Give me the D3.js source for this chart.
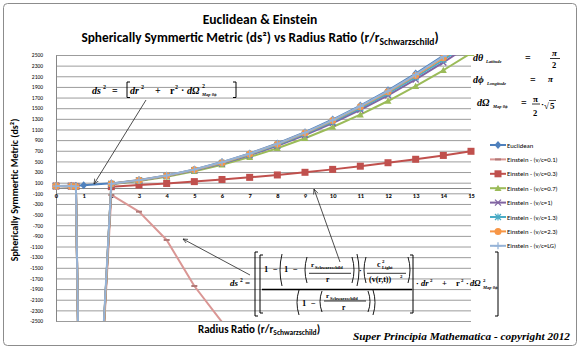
<!DOCTYPE html>
<html>
<head>
<meta charset="utf-8">
<script src="https://cdn.jsdelivr.net/npm/d3@7"></script>
<style>
  body { margin: 0; background: #fff; }
  svg text { font-family: Carlito, Calibri, Lato, sans-serif; }
  svg text.math { font-family: "Liberation Serif", "Times New Roman", serif; font-weight: bold; }
</style>
</head>
<body>
<svg id="chart" width="580" height="349"></svg>
<script>
// values (x = r / r_schwarzschild)
const xValues = [0, 0.55, 0.72, 1, 2, 3, 4, 5, 6, 7, 8, 9, 10, 11, 12, 13, 14, 15];
const euclidean  = [37, 41, 43, 50, 87, 150, 237, 350, 487, 650, 837, 1050, 1287, 1550, 1837, 2150, 2487, 2850];
const einstein01 = [37, 35, 30, -9600, -131, -445, -977, -1842, -2520, null, null, null, null, null, null, null, null, null];
const einstein03 = [37, 35, 30, -9600, 25, 55, 85, 120, 160, 200, 245, 295, 350, 410, 475, 540, 612, 690];
const einstein07 = [37, 35, 30, -9700, 70, 130, 213, 315, 437, 581, 747, 936, 1147, 1380, 1635, 1913, 2213, 2535];
const einstein1  = [37, 35, 30, -9800, 76, 140, 224, 331, 461, 617, 795, 997, 1222, 1471, 1743, 2040, 2360, 2703];
const einstein13 = [37, 35, 30, -9900, 78, 143, 228, 337, 469, 630, 812, 1017, 1247, 1501, 1779, 2082, 2408, 2759];
const einstein23 = [37, 35, 30, -10000, 80, 146, 232, 342, 476, 640, 824, 1033, 1267, 1525, 1808, 2115, 2447, 2804];
const einsteinLG = [37, 35, 30, -9500, 80, 148, 235, 347, 483, 645, 830, 1041, 1277, 1537, 1822, 2133, 2468, 2830];

const seriesNames = ["Euclidean", "Einstein - (v/c=0.1)", "Einstein - (v/c=0.3)", "Einstein - (v/c=0.7)",
                     "Einstein - (v/c=1)", "Einstein - (v/c=1.3)", "Einstein - (v/c=2.3)", "Einstein - (v/c=LG)"];
const seriesValues = [euclidean, einstein01, einstein03, einstein07, einstein1, einstein13, einstein23, einsteinLG];
const seriesColors = ["#4F81BD", "#DA9694", "#C0504D", "#9BBB59", "#8064A2", "#4BACC6", "#F79646", "#95B3D7"];
const seriesMarkers = ["diamond", "dash", "square", "triangle", "cross", "star", "circle", "plus"];

const xTicks = [0, 1, 2, 3, 4, 5, 6, 7, 8, 9, 10, 11, 12, 13, 14, 15];
const yTicks = d3.range(-2500, 2501, 200);

const svg = d3.select("#chart");

svg.append("rect")
    .attr("x", 3.5).attr("y", 3.5).attr("width", 573).attr("height", 342).attr("rx", 4)
    .attr("fill", "#fff").attr("stroke", "#8c8c8c");

const x = d3.scaleLinear().domain([0, 15]).range([56, 471]);
const y = d3.scaleLinear().domain([-2500, 2500]).range([321, 55]);

// titles
svg.append("text").attr("x", 260).attr("y", 24).attr("text-anchor", "middle")
    .attr("font-size", 13.6).attr("font-weight", "bold").text("Euclidean & Einstein");
let t2 = svg.append("text").attr("x", 260).attr("y", 42).attr("text-anchor", "middle")
    .attr("font-size", 13.3).attr("font-weight", "bold");
t2.append("tspan").text("Spherically Symmertic Metric (ds²) vs Radius Ratio (r/r");
t2.append("tspan").attr("font-size", 9.5).attr("dy", 3).text("Schwarzschild");
t2.append("tspan").attr("dy", -3).text(")");

svg.append("text").attr("transform", "translate(18,190) rotate(-90)").attr("text-anchor", "middle")
    .attr("font-size", 10).attr("font-weight", "bold").text("Spherically Symmertic Metric (ds²)");

let xt = svg.append("text").attr("x", 198).attr("y", 333)
    .attr("font-size", 11).attr("font-weight", "bold");
xt.append("tspan").text("Radius Ratio (r/r");
xt.append("tspan").attr("font-size", 7.5).attr("dy", 2).text("Schwarzschild");
xt.append("tspan").attr("dy", -2).text(")");

// gridlines
svg.append("g").attr("transform", "translate(56,0)")
    .call(d3.axisLeft(y).tickValues(yTicks).tickSize(-415).tickFormat(""))
    .call(g => g.select(".domain").remove())
    .selectAll("line").attr("stroke", "#9c9c9c");

// y axis
let yAxis = svg.append("g").attr("transform", "translate(56,0)")
    .call(d3.axisLeft(y).tickValues(yTicks).tickSize(0).tickSizeOuter(0).tickPadding(13).tickFormat(d => String(d)));
yAxis.select(".domain").attr("stroke", "#868686");
yAxis.selectAll("text").attr("font-size", 5.5).attr("fill", "#000")
    .style("font-family", "Carlito, Calibri, Lato, sans-serif");

// x axis at zero
let xAxis = svg.append("g").attr("transform", `translate(0,${y(0)})`)
    .call(d3.axisBottom(x).tickValues(xTicks).tickSize(0).tickSizeOuter(0).tickPadding(5).tickFormat(d => String(d)));
xAxis.select(".domain").attr("stroke", "#868686");
xAxis.selectAll("text").attr("font-size", 6.5).attr("font-weight", "bold").attr("fill", "#000")
    .style("font-family", "Carlito, Calibri, Lato, sans-serif");

// series
svg.append("clipPath").attr("id", "plotClip")
    .append("rect").attr("x", 50).attr("y", 55).attr("width", 430).attr("height", 266);

function drawMarker(g, type, color, cx, cy) {
    const s = 3.5;
    if (type == "diamond") {
        g.append("path").attr("d", `M${cx},${cy - s - 0.5}L${cx + s},${cy}L${cx},${cy + s + 0.5}L${cx - s},${cy}Z`).attr("fill", color);
    } else if (type == "square") {
        g.append("rect").attr("x", cx - s).attr("y", cy - s).attr("width", 2 * s).attr("height", 2 * s).attr("fill", color);
    } else if (type == "triangle") {
        g.append("path").attr("d", `M${cx},${cy - s}L${cx + s},${cy + s * 0.8}L${cx - s},${cy + s * 0.8}Z`).attr("fill", color);
    } else if (type == "circle") {
        g.append("circle").attr("cx", cx).attr("cy", cy).attr("r", s).attr("fill", color);
    } else if (type == "cross") {
        g.append("path").attr("d", `M${cx - 3},${cy - 3}L${cx + 3},${cy + 3}M${cx - 3},${cy + 3}L${cx + 3},${cy - 3}`)
            .attr("stroke", color).attr("stroke-width", 1.3);
    } else if (type == "star") {
        g.append("path").attr("d", `M${cx - 3},${cy - 3}L${cx + 3},${cy + 3}M${cx - 3},${cy + 3}L${cx + 3},${cy - 3}M${cx},${cy - 3.5}V${cy + 3.5}`)
            .attr("stroke", color).attr("stroke-width", 1.2);
    } else if (type == "plus") {
        g.append("path").attr("d", `M${cx - 3.5},${cy}H${cx + 3.5}M${cx},${cy - 3.5}V${cy + 3.5}`)
            .attr("stroke", color).attr("stroke-width", 1.3);
    } else if (type == "dash") {
        g.append("path").attr("d", `M${cx - 3},${cy}H${cx + 3}`).attr("stroke", d3.color(color).darker(0.6)).attr("stroke-width", 2);
    }
}

const line = d3.line().defined(d => d[1] != null).x(d => x(d[0])).y(d => y(d[1]));
const plot = svg.append("g").attr("clip-path", "url(#plotClip)");

for (let i = 0; i < seriesValues.length; i++) {
    let pts = xValues.map((v, j) => [v, seriesValues[i][j]]);
    plot.append("path").datum(pts).attr("d", line)
        .attr("fill", "none").attr("stroke", seriesColors[i]).attr("stroke-width", 2).attr("stroke-linejoin", "round");
    let mg = plot.append("g");
    pts.filter(p => p[1] != null).forEach(p => drawMarker(mg, seriesMarkers[i], seriesColors[i], x(p[0]), y(p[1])));
}

// legend
const legend = svg.append("g");
for (let i = 0; i < seriesNames.length; i++) {
    let ly = 145 + i * 14.4;
    legend.append("line").attr("x1", 490).attr("x2", 506).attr("y1", ly).attr("y2", ly)
        .attr("stroke", seriesColors[i]).attr("stroke-width", 2);
    drawMarker(legend, seriesMarkers[i], seriesColors[i], 498, ly);
    legend.append("text").attr("x", 507).attr("y", ly + 2.5).attr("font-size", 6.7).text(seriesNames[i]);
}

// formula helpers
function put(g, px, py, str, size, italic) {
    return g.append("text").attr("class", "math").attr("x", px).attr("y", py)
        .attr("font-size", size).attr("font-style", italic ? "italic" : "normal").text(str);
}
function bracket(g, px, y1, y2, dir) {
    g.append("path").attr("d", `M${px + 3 * dir},${y1}H${px}V${y2}H${px + 3 * dir}`)
        .attr("fill", "none").attr("stroke", "#000").attr("stroke-width", 1);
}
function paren(g, px, y1, y2, dir) {
    let m = (y1 + y2) / 2;
    g.append("path").attr("d", `M${px},${y1}Q${px - 4 * dir},${m} ${px},${y2}`)
        .attr("fill", "none").attr("stroke", "#000").attr("stroke-width", 0.9);
}
function bar(g, x1, x2, py, w) {
    g.append("line").attr("x1", x1).attr("x2", x2).attr("y1", py).attr("y2", py)
        .attr("stroke", "#000").attr("stroke-width", w || 0.8);
}

// arrows
const defs = svg.append("defs");
defs.append("marker").attr("id", "arr").attr("viewBox", "0 0 10 10").attr("refX", 9).attr("refY", 5)
    .attr("markerWidth", 7).attr("markerHeight", 7).attr("orient", "auto")
    .append("path").attr("d", "M0,1L9,5L0,9").attr("fill", "none").attr("stroke", "#222").attr("stroke-width", 1.2);
function arrow(x1, y1, x2, y2) {
    svg.append("line").attr("x1", x1).attr("y1", y1).attr("x2", x2).attr("y2", y2)
        .attr("stroke", "#222").attr("stroke-width", 0.8).attr("marker-end", "url(#arr)");
}
arrow(146, 100, 94, 184);
arrow(250, 275, 183, 239);
arrow(340, 262, 314, 189);

// formula: Euclidean
const f1 = svg.append("g");
put(f1, 92, 93.5, "ds", 10, true); put(f1, 103, 88.5, "2", 6, false);
put(f1, 112, 93.5, "=", 10, false);
bracket(f1, 127, 82, 97.5, 1);
put(f1, 130, 93.5, "dr", 10, true); put(f1, 141, 88.5, "2", 6, false);
put(f1, 155, 93.5, "+", 10, false);
put(f1, 170, 93.5, "r", 10, false); put(f1, 175, 88.5, "2", 6, false);
put(f1, 181, 93.5, "·", 10, false);
put(f1, 187, 93.5, "dΩ", 10, true); put(f1, 202, 88, "2", 6, false);
put(f1, 202, 96, "Map θϕ", 4.5, true);
bracket(f1, 236, 82, 97.5, -1);

// formula: angles
const f2 = svg.append("g");
put(f2, 473, 61, "dθ", 10, true); put(f2, 486, 63, "Latitude", 4.5, true);
put(f2, 525, 61, "=", 10, false);
put(f2, 552, 55.5, "π", 9, true); bar(f2, 550, 560, 58.5); put(f2, 552, 67.5, "2", 8.5, false);
put(f2, 473, 83, "dϕ", 10, true); put(f2, 487, 85, "Longitude", 4.5, true);
put(f2, 530, 83, "=", 10, false);
put(f2, 548, 82, "π", 9, true);
put(f2, 477, 106, "dΩ", 10, true); put(f2, 493, 108, "Map θϕ", 4.5, true);
put(f2, 521, 106, "=", 10, false);
put(f2, 533, 101.5, "π", 9, false); bar(f2, 532, 540, 104); put(f2, 533, 115.5, "2", 8.5, false);
put(f2, 541, 107, "·", 9, false);
put(f2, 544, 109, "√", 9, false); bar(f2, 549, 556, 100.5, 0.7); put(f2, 550, 109, "5", 9, false);

// formula: Einstein
const f3 = svg.append("g");
put(f3, 230, 286, "ds", 9, true); put(f3, 240, 282, "2", 5.5, false);
put(f3, 245, 286, "=", 9, false);
bracket(f3, 255, 252, 316, 1);
bracket(f3, 260, 255, 313, 1);
put(f3, 264, 272, "1", 8.5, false); put(f3, 273, 272, "−", 8.5, false);
paren(f3, 282, 254, 286, 1);
put(f3, 284, 272, "1", 8.5, false); put(f3, 293, 272, "−", 8.5, false);
paren(f3, 307, 257, 283, 1);
put(f3, 311, 267, "r", 7, false); put(f3, 315, 268.5, "Schwarzschild", 4.5, false);
bar(f3, 309, 351, 273.3);
put(f3, 326, 282, "r", 7.5, false);
paren(f3, 352, 257, 283, -1);
paren(f3, 357, 254, 286, -1);
put(f3, 359, 273, "·", 8, false);
paren(f3, 366, 257, 283, 1);
put(f3, 377, 267, "c", 8, false); put(f3, 382, 263, "2", 5, false); put(f3, 382, 269, "Light", 4.5, false);
bar(f3, 367, 406, 273.3);
put(f3, 369, 282, "(v(r,t))", 8, false); put(f3, 400, 277.5, "2", 5, false);
paren(f3, 408, 257, 283, -1);
bar(f3, 262, 412, 289.5, 1.4);
paren(f3, 299, 290, 315, 1);
put(f3, 302, 305.5, "1", 8.5, false); put(f3, 311, 305.5, "−", 8.5, false);
paren(f3, 322, 291, 312, 1);
put(f3, 326, 298, "r", 7, false); put(f3, 330, 299.5, "Schwarzschild", 4.5, false);
bar(f3, 324, 366, 301);
put(f3, 342, 309.5, "r", 7.5, false);
paren(f3, 368, 291, 312, -1);
paren(f3, 373, 290, 315, -1);
bracket(f3, 413, 255, 313, -1);
put(f3, 416, 286, "·", 8, false);
put(f3, 421, 286, "dr", 8.5, true); put(f3, 430, 282, "2", 5, false);
put(f3, 442, 286, "+", 8.5, false);
put(f3, 456, 286, "r", 8.5, false); put(f3, 461, 282, "2", 5, false);
put(f3, 466, 286, "·", 8, false);
put(f3, 470, 286, "dΩ", 8.5, true); put(f3, 483, 281.5, "2", 5, false);
put(f3, 483, 289, "Map θϕ", 4.5, true);
bracket(f3, 498, 252, 316, -1);

// credit
svg.append("text").attr("class", "math").attr("x", 353).attr("y", 340)
    .attr("font-size", 9.5).attr("font-style", "italic").attr("textLength", 217).attr("lengthAdjust", "spacingAndGlyphs")
    .text("Super Principia Mathematica - copyright 2012");
</script>
</body>
</html>
